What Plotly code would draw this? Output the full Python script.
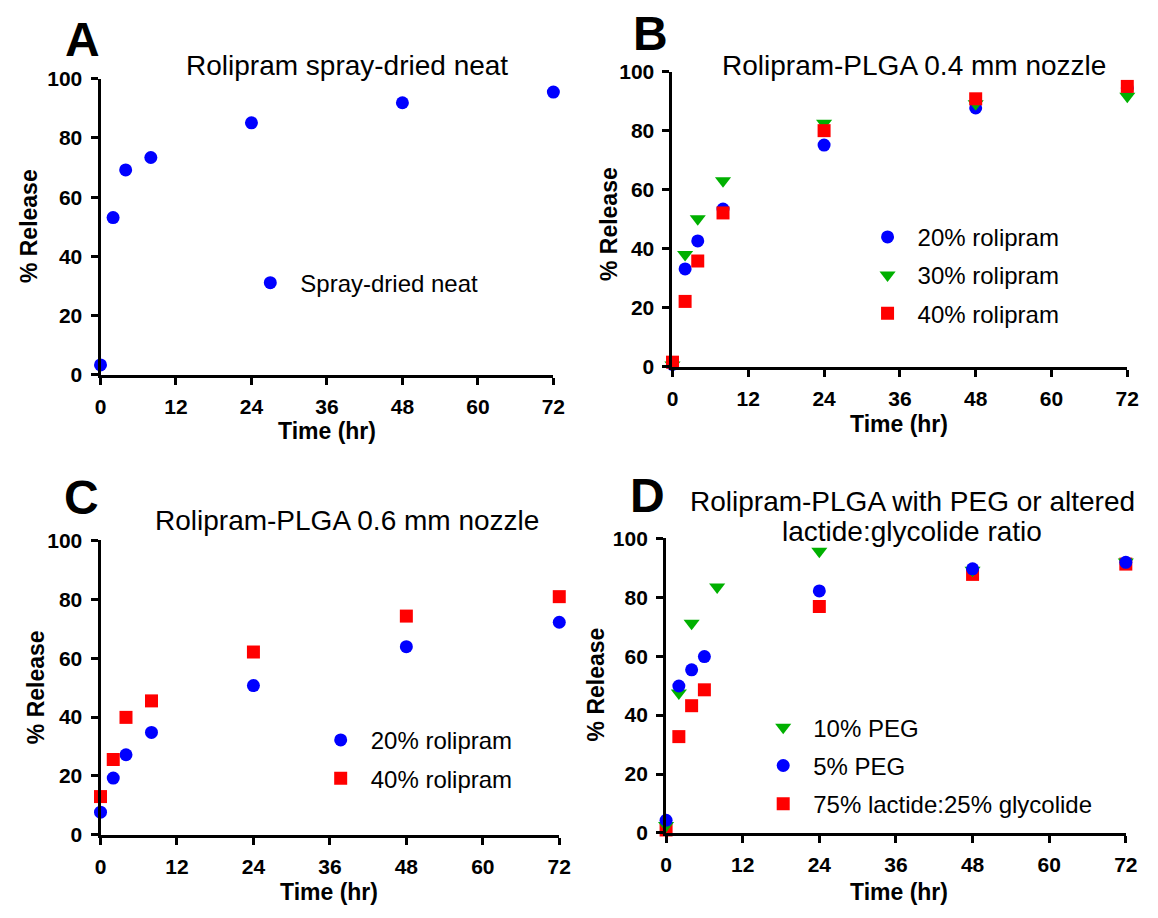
import plotly.graph_objects as go

# ---------------- data ----------------
time_ticks = [0, 12, 24, 36, 48, 60, 72]
release_ticks = [0, 20, 40, 60, 80, 100]

# Panel A
a_time = [0, 2, 4, 8, 24, 48, 72]
a_neat = [3.3, 53.1, 69.2, 73.4, 85.1, 91.9, 95.5]

# Panel B
b_time = [0, 2, 4, 8, 24, 48, 72]
b_20 = [0.8, 33.2, 42.7, 53.5, 75.2, 87.8, 94.6]
b_30 = [0.6, 38.1, 50.2, 63.1, 82.6, 89.2, 91.8]
b_40 = [1.6, 22.2, 35.9, 52.2, 80.1, 90.9, 95.1]

# Panel C
c_time = [0, 2, 4, 8, 24, 48, 72]
c_20 = [7.7, 19.3, 27.2, 34.8, 50.7, 63.9, 72.2]
c_40 = [13.0, 25.6, 39.9, 45.5, 62.1, 74.3, 80.9]

# Panel D
d_time_peg10 = [0, 2, 4, 8, 24, 48, 72]
d_peg10 = [2.5, 47.5, 71.2, 83.5, 95.7, 89.2, 92.0]
d_time_peg5 = [0, 2, 4, 6, 24, 48, 72]
d_peg5 = [4.3, 49.9, 55.4, 59.9, 82.2, 89.7, 91.9]
d_time_lg = [0, 2, 4, 6, 24, 48, 72]
d_lg = [1.0, 32.7, 43.2, 48.6, 76.9, 87.8, 91.3]

# ---------------- styling ----------------
W, H = 1158, 918
FONT = "Liberation Sans, Arial, sans-serif"
BLUE, GREEN, RED = "#0000FF", "#00B000", "#FF0000"
MS = 13

def px_x(p):
    return p / W

def px_y(p):
    return 1 - p / H

fig = go.Figure()

def add(x, y, name, color, symbol, xa, ya, leg, rank, size=MS):
    fig.add_trace(go.Scatter(
        x=x, y=y, mode="markers", name=name,
        marker=dict(color=color, symbol=symbol, size=size, line=dict(width=0)),
        xaxis=xa, yaxis=ya, legend=leg, legendgroup=name + leg,
        legendrank=rank, cliponaxis=False, showlegend=True))

add(a_time, a_neat, "Spray-dried neat", BLUE, "circle", "x", "y", "legend", 1)

add(b_time, b_20, "20% rolipram", BLUE, "circle", "x2", "y2", "legend2", 1)
add(b_time, b_30, "30% rolipram", GREEN, "triangle-down", "x2", "y2", "legend2", 2, 14)
add(b_time, b_40, "40% rolipram", RED, "square", "x2", "y2", "legend2", 3)

add(c_time, c_20, "20% rolipram", BLUE, "circle", "x3", "y3", "legend3", 1)
add(c_time, c_40, "40% rolipram", RED, "square", "x3", "y3", "legend3", 2)

add(d_time_lg, d_lg, "75% lactide:25% glycolide", RED, "square", "x4", "y4", "legend4", 3)
add(d_time_peg10, d_peg10, "10% PEG", GREEN, "triangle-down", "x4", "y4", "legend4", 1, 14)
add(d_time_peg5, d_peg5, "5% PEG", BLUE, "circle", "x4", "y4", "legend4", 2)

# panel geometry (pixels): x0, x72, y0, y100
panels = {
    "": (96, 556, 372, 68.5),
    "2": (677, 1139, 364, 61.5),
    "3": (96, 562, 844, 542),
    "4": (670.5, 1137.5, 842, 540),
}

tickfont = dict(family=FONT, size=21, color="black", weight="bold")
for k, (x0, x1, y0, y1) in panels.items():
    common = dict(showline=True, linewidth=3, linecolor="black", ticks="outside",
                  ticklen=7, tickwidth=3, tickcolor="black", showgrid=False,
                  zeroline=False, tickfont=tickfont, fixedrange=True)
    fig.layout["xaxis" + k] = dict(domain=[px_x(x0), px_x(x1)], range=[0, 72],
                                   tickvals=time_ticks, anchor="y" + k,
                                   ticklabelstandoff=4, **common)
    fig.layout["yaxis" + k] = dict(domain=[px_y(y0), px_y(y1)], range=[0, 100],
                                   tickvals=release_ticks, anchor="x" + k,
                                   ticklabelstandoff=4, **common)

ann = []
def text(x, y, s, size, bold=False, angle=0):
    ann.append(dict(x=px_x(x), y=px_y(y), xref="paper", yref="paper", text=s,
                    showarrow=False, xanchor="center", yanchor="middle",
                    textangle=angle,
                    font=dict(family=FONT, size=size, color="black",
                              weight="bold" if bold else "normal")))

# panel letters
text(78, 28, "A", 48, True)
text(655, 22, "B", 48, True)
text(77, 498, "C", 48, True)
text(652, 496, "D", 48, True)
# titles
text(346, 55, "Rolipram spray-dried neat", 28)
text(922, 55, "Rolipram-PLGA 0.4 mm nozzle", 28)
text(346, 522, "Rolipram-PLGA 0.6 mm nozzle", 28)
text(921, 502, "Rolipram-PLGA with PEG or altered", 28)
text(920, 533, "lactide:glycolide ratio", 28)
# axis titles
for (xc, yc) in [(24, 220), (612, 217), (30, 693), (599, 690)]:
    text(xc, yc, "% Release", 23, True, -90)
for (xc, yc) in [(326, 430), (907, 423), (328, 903), (907, 903)]:
    text(xc, yc, "Time (hr)", 23, True)

fig.update_layout(annotations=ann)

legfont = dict(family=FONT, size=24, color="black")
def leg(marker_x, row1_y):
    return dict(x=px_x(marker_x - 30), y=px_y(row1_y - 18), xref="paper", yref="paper",
                xanchor="left", yanchor="top", bgcolor="rgba(0,0,0,0)",
                font=legfont, itemwidth=50, tracegroupgap=4,
                itemclick=False, itemdoubleclick=False)

fig.update_layout(
    width=W, height=H, margin=dict(l=0, r=0, t=0, b=0),
    paper_bgcolor="white", plot_bgcolor="white",
    legend=leg(268, 273),
    legend2=leg(895, 226),
    legend3=leg(339.5, 742),
    legend4=leg(789, 729),
)

fig.write_html(
    "out.html",
    config={"displayModeBar": False},
    post_script=("document.body.style.margin='0px';document.body.style.padding='0px';"
                 "document.body.style.overflow='hidden';"
                 "document.documentElement.style.overflow='hidden';"),
)
